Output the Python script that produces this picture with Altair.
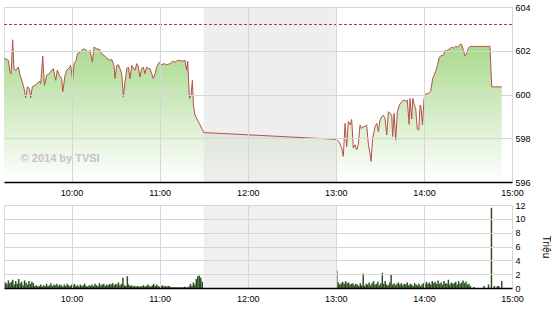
import altair as alt
import pandas as pd

DAY = "2014-06-10"
FONT = "Liberation Sans"
GRID = "#d6d6d6"

# ---------------- price (VN-Index style intraday) ----------------
price_times = [
    "09:14:00", "09:17:00", "09:18:06", "09:18:48", "09:19:54", "09:20:48", "09:22:12", "09:23:48",
    "09:24:54", "09:26:48", "09:27:42", "09:28:48", "09:29:54", "09:31:18", "09:32:12", "09:33:18",
    "09:35:06", "09:36:42", "09:38:06", "09:39:00", "09:40:24", "09:41:30", "09:43:06", "09:44:54",
    "09:46:30", "09:47:36", "09:49:12", "09:50:18", "09:51:42", "09:53:18", "09:54:00", "09:55:36",
    "09:56:42", "09:58:18", "09:59:24", "10:00:48", "10:01:42", "10:03:06", "10:04:00", "10:05:48",
    "10:08:06", "10:09:54", "10:11:30", "10:12:36", "10:14:12", "10:15:18", "10:17:06", "10:19:00",
    "10:20:30", "10:22:06", "10:23:54", "10:26:12", "10:27:18", "10:28:54", "10:29:36", "10:30:48",
    "10:31:54", "10:33:00", "10:34:12", "10:35:18", "10:36:24", "10:37:36", "10:38:42", "10:39:48",
    "10:41:00", "10:42:06", "10:43:12", "10:44:24", "10:45:30", "10:46:36", "10:47:48", "10:48:54",
    "10:50:00", "10:51:12", "10:52:18", "10:53:30", "10:54:36", "10:55:42", "10:56:54", "10:58:00",
    "10:59:48", "11:01:24", "11:03:00", "11:04:48", "11:07:06", "11:08:54", "11:10:30", "11:12:06",
    "11:13:54", "11:15:42", "11:17:18", "11:18:24", "11:19:06", "11:20:18", "11:21:24", "11:22:18",
    "11:23:00", "11:24:06", "11:26:24", "11:28:42", "11:30:12",
    "13:00:36", "13:02:24", "13:04:00", "13:05:06", "13:06:18", "13:07:24", "13:08:30", "13:09:42",
    "13:10:48", "13:11:54", "13:13:06", "13:14:12", "13:15:18", "13:16:30", "13:17:36", "13:18:42",
    "13:19:54", "13:21:00", "13:22:12", "13:23:18", "13:24:00", "13:25:06", "13:26:42", "13:27:54",
    "13:29:00", "13:30:06", "13:31:18", "13:32:24", "13:33:30", "13:34:42", "13:35:48", "13:36:54",
    "13:38:06", "13:38:42", "13:39:42", "13:40:48", "13:41:54", "13:43:18", "13:44:54", "13:46:00",
    "13:47:48", "13:48:42", "13:49:54", "13:50:30", "13:51:42", "13:52:24", "13:53:30", "13:54:24",
    "13:55:30", "13:56:30", "13:57:24", "13:58:00", "13:59:00", "14:00:06", "14:01:12", "14:03:00",
    "14:04:36", "14:06:00", "14:06:54", "14:08:18", "14:09:12", "14:10:30", "14:12:06", "14:13:18",
    "14:14:24", "14:15:30", "14:16:42", "14:17:48", "14:18:54", "14:20:06", "14:21:36", "14:23:00",
    "14:24:06", "14:25:06", "14:25:42", "14:26:54", "14:28:00", "14:29:06", "14:30:18", "14:31:24",
    "14:45:00", "14:46:12", "14:53:00",
]
price_values = [
    601.67, 601.56, 601.03, 600.95, 602.50, 601.18, 601.11, 601.26,
    600.88, 600.50, 600.27, 599.85, 600.35, 600.27, 599.85, 600.35,
    600.42, 600.50, 600.61, 600.50, 601.76, 600.42, 600.88, 600.95,
    601.11, 601.18, 600.65, 601.11, 600.88, 600.73, 600.12, 600.88,
    601.11, 601.21, 601.33, 600.65, 601.41, 601.56, 601.86, 601.94,
    602.09, 602.02, 601.94, 602.02, 601.48, 602.17, 602.09, 602.06,
    601.86, 601.79, 601.67, 601.56, 601.61, 601.33, 600.73, 601.33,
    601.36, 601.18, 600.95, 599.89, 600.58, 601.18, 601.26, 600.73,
    601.33, 601.21, 601.11, 601.41, 601.26, 600.80, 601.18, 601.26,
    600.95, 601.26, 601.18, 601.18, 600.95, 600.73, 600.95, 601.26,
    601.48, 601.36, 601.41, 601.36, 601.41, 601.52, 601.48, 601.56,
    601.56, 601.52, 601.56, 601.11, 601.52, 599.82, 599.97, 600.65,
    599.52, 599.06, 598.76, 598.45, 598.26,
    597.95, 597.82, 597.55, 597.17, 598.68, 597.62, 598.76, 598.61,
    598.86, 597.55, 597.70, 597.47, 597.70, 598.61, 598.45, 598.53,
    598.53, 598.61, 597.70, 597.32, 596.94, 598.00, 598.53, 598.68,
    598.30, 598.83, 598.98, 599.06, 598.91, 598.15, 599.21, 599.14,
    599.06, 598.08, 599.14, 597.92, 599.21, 599.52, 599.67, 599.74,
    599.70, 599.74, 598.64, 599.82, 598.88, 599.82, 599.52, 599.36,
    598.41, 598.38, 599.52, 599.44, 598.61, 599.82, 600.02, 600.05,
    600.15, 600.73, 600.88, 601.11, 601.33, 601.71, 601.79, 601.79,
    602.02, 601.98, 602.06, 602.09, 602.17, 602.12, 602.20, 602.17,
    602.24, 602.32, 602.29, 602.02, 601.76, 601.86, 602.12, 602.20,
    602.20, 600.35, 600.35,
]
reference_price = 603.2

# ---------------- volume (millions) ----------------
morning_start = "09:15"
morning_volume = [
    0.8, 0.6, 1.1, 0.7, 0.9, 1.2, 0.5, 1.0, 0.6, 1.3,
    0.7, 0.9, 0.4, 1.1, 0.8, 0.5, 1.0, 0.6, 0.9, 0.7,
    0.3, 0.4, 0.2, 0.3, 0.5, 0.2, 0.4, 0.3, 0.6, 0.3,
    0.4, 0.7, 0.3, 0.5, 0.4, 0.6, 0.3, 0.5, 0.4, 0.2,
    0.5, 0.3, 0.6, 0.4, 0.3, 0.5, 0.4, 0.6, 0.3, 0.4,
    0.2, 0.5, 0.3, 0.4, 0.6, 0.3, 0.2, 0.4, 0.3, 0.5,
    0.3, 0.6, 0.4, 0.3, 0.7, 0.4, 0.5, 0.6, 0.3, 0.5,
    0.4, 0.6, 0.5, 0.7, 0.4, 0.6, 0.5, 0.8, 0.4, 0.6,
    1.5, 0.4, 0.3, 1.7, 0.5, 0.3, 0.4, 0.2, 0.3, 0.2,
    0.3, 0.2, 0.2, 0.3, 0.4, 0.2, 0.3, 0.5, 0.3, 0.2,
    0.4, 0.6, 0.3, 0.5, 0.3, 0.2, 0.3, 0.4, 0.2, 0.3,
    0.2, 0.3, 0.2, 0.1, 0.1, 0.1, 0.1, 0.1, 0.1, 0.1,
    0.1, 0.1, 0.2, 0.1, 0.1, 0.2, 0.6, 0.3, 0.8, 0.5,
    1.3, 1.7, 1.8, 1.5, 0.9,
]
afternoon_start = "13:00:40"
afternoon_volume = [
    2.5, 0.8, 0.5, 0.7, 0.9, 0.6, 1.0, 0.7, 0.8, 0.5,
    0.6, 0.7, 0.4, 0.6, 0.5, 0.3, 0.7, 0.4, 2.1, 0.3,
    0.6, 0.5, 0.8, 0.4, 0.7, 1.0, 0.5, 0.6, 0.9, 0.4,
    0.7, 2.2, 0.6, 1.0, 0.5, 0.4, 0.8, 2.0, 0.5, 0.7,
    0.4, 0.6, 0.8, 0.5, 0.7, 0.4, 0.6, 0.5, 0.8, 0.4,
    0.6, 0.5, 0.3, 0.7, 0.5, 0.4, 0.6, 0.3, 0.5, 0.7,
    0.5, 0.9, 0.6, 0.8, 0.5, 1.0, 0.7, 0.9, 0.6, 1.1,
    0.6, 0.8, 0.5, 1.0, 0.7, 0.6, 1.2, 0.5, 0.8, 0.6,
    0.7, 0.9, 0.5, 1.0, 0.6, 0.8, 1.1, 0.7, 0.9, 0.5,
    0.6, 0.3,
]
late_times = ["14:34", "14:41", "14:44", "14:46", "14:48", "14:50", "14:51", "14:53"]
late_volume = [0.15, 0.3, 0.5, 11.6, 0.3, 0.25, 0.3, 1.0]

break_start, break_end = "11:30", "13:00"
x_start, x_end = "09:14", "15:00"
hour_ticks = ["10:00", "11:00", "12:00", "13:00", "14:00", "15:00"]
price_ticks = [596, 598, 600, 602, 604]
volume_ticks = [0, 2, 4, 6, 8, 10, 12]
watermark = "© 2014 by TVSI"
watermark_at = ("09:25:20", 597.05)
volume_title = "Triệu"


def iso(hms):
    if hms.count(":") == 1:
        hms += ":00"
    return f"{DAY}T{hms}"


def dt(hm):
    parts = [int(p) for p in hm.split(":")] + [0]
    return alt.DateTime(year=2014, month=6, date=10, hours=parts[0], minutes=parts[1], seconds=parts[2])


price_df = pd.DataFrame({"t": [iso(t) for t in price_times], "price": price_values})

vol_rows = []
base = pd.Timestamp(iso(morning_start))
for i, v in enumerate(morning_volume):
    vol_rows.append(((base + pd.Timedelta(minutes=i)).isoformat(), v))
base = pd.Timestamp(iso(afternoon_start))
for i, v in enumerate(afternoon_volume):
    vol_rows.append(((base + pd.Timedelta(minutes=i)).isoformat(), v))
for t, v in zip(late_times, late_volume):
    vol_rows.append((iso(t), v))
vol_df = pd.DataFrame(vol_rows, columns=["t", "vol"])

band_df = pd.DataFrame({"t": [iso(break_start)], "t2": [iso(break_end)]})
ref_df = pd.DataFrame({"p": [reference_price]})
wm_df = pd.DataFrame({"t": [iso(watermark_at[0])], "p": [watermark_at[1]], "txt": [watermark]})

W, H1, H2 = 508, 175, 83

xscale = alt.Scale(domain=[dt(x_start), dt(x_end)], padding=0, nice=False)
xaxis = alt.Axis(values=[dt(h) for h in hour_ticks], format="%H:%M", grid=True, gridColor=GRID,
                 domainColor="#000000", domainWidth=1.5, ticks=False, labelPadding=6, labelFontSize=9,
                 labelFont=FONT, labelColor="#000000", title=None, zindex=1, labelFlush=False)
X = alt.X("t:T", scale=xscale, axis=xaxis)

# ---------------- top panel ----------------
yscale1 = alt.Scale(domain=[596, 604], zero=False, nice=False)
yaxis1 = alt.Axis(orient="right", values=price_ticks, grid=True, gridColor=GRID, domain=False,
                  ticks=False, labelPadding=3, labelFontSize=9, labelFont=FONT, labelColor="#000000",
                  title=None, zindex=1)

gradient = alt.Gradient(
    gradient="linear",
    stops=[alt.GradientStop(color="#a6d889", offset=0), alt.GradientStop(color="#ffffff", offset=1)],
    x1=1, x2=1, y1=0, y2=1,
)

area = alt.Chart(price_df).mark_area(color=gradient).encode(
    x=X, y=alt.Y("price:Q", scale=yscale1, axis=yaxis1), y2=alt.datum(596)
)
band1 = alt.Chart(band_df).mark_rect(color="#dedede", opacity=0.5).encode(
    x=X, x2="t2:T", y=alt.value(0), y2=alt.value(H1)
)
line = alt.Chart(price_df).mark_line(color="#b5514d", strokeWidth=1).encode(x=X, y=alt.Y("price:Q", scale=yscale1))
ref = alt.Chart(ref_df).mark_rule(color="#c0392b", strokeDash=[3, 2], strokeWidth=1).encode(
    y=alt.Y("p:Q", scale=yscale1)
)
wm = alt.Chart(wm_df).mark_text(font=FONT, fontWeight="bold", fontSize=11, color="#c4c4c4",
                                align="left", baseline="middle").encode(
    x=X, y=alt.Y("p:Q", scale=yscale1), text="txt:N"
)
top = alt.layer(area, band1, line, ref, wm).properties(width=W, height=H1)

# ---------------- bottom panel ----------------
yscale2 = alt.Scale(domain=[0, 12], nice=False)
yaxis2 = alt.Axis(orient="right", values=volume_ticks, grid=True, gridColor=GRID, domain=False,
                  ticks=False, labelPadding=3, labelFontSize=9, labelFont=FONT, labelColor="#000000",
                  title=volume_title, titleAngle=90, titleFont=FONT, titleFontSize=10,
                  titleFontWeight="normal", titleColor="#000000", titlePadding=15, zindex=1)
band2 = alt.Chart(band_df).mark_rect(color="#f0f0f0").encode(
    x=X, x2="t2:T", y=alt.value(0), y2=alt.value(H2)
)
bars = alt.Chart(vol_df).mark_bar(color="#2f4f24", size=1.5).encode(
    x=X, y=alt.Y("vol:Q", scale=yscale2, axis=yaxis2)
)
bottom = alt.layer(band2, bars).properties(width=W, height=H2)

chart = alt.vconcat(top, bottom, spacing=23, bounds="flush").properties(
    padding={"left": 1, "top": 2, "right": 0, "bottom": 0}
).configure_view(stroke=GRID).configure(background="#ffffff")

chart.save("out.html", embed_options={"renderer": "svg", "actions": False})
